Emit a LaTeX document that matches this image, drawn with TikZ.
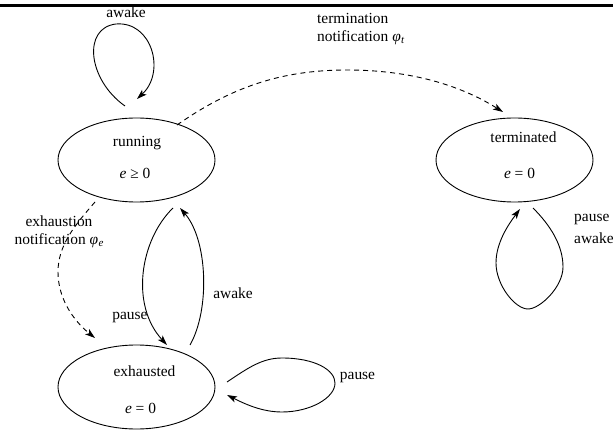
\documentclass[tikz,border=0pt]{standalone}
\usepackage{fontspec}
\setmainfont{Liberation Serif}
\usetikzlibrary{shapes.geometric,arrows.meta}

\tikzset{
  state/.style={ellipse, draw, line width=0.9bp, minimum width=157bp,
    minimum height=84bp, inner sep=0pt},
  txt/.style={inner sep=0pt, font=\fontsize{15.5}{18.5}\selectfont},
  edge/.style={line width=0.9bp, -{Stealth[length=10bp, width=6.5bp, inset=2.5bp]}},
  notify/.style={edge, dash pattern=on 5bp off 4bp},
  rule/.style={line width=2.6bp}
}
\newcommand{\phisub}[1]{\textit{φ}\kern0.3pt\raisebox{-0.25ex}{\fontsize{11}{12}\selectfont\textit{#1}}}

\begin{document}
\begin{tikzpicture}[x=1bp, y=-1bp]
  \useasboundingbox (0,0) rectangle (613,434);

  % header rule
  \draw[rule] (0,5.4) -- (613,5.4);

  % states
  \node[state] (run)  at (136.5,160) {};
  \node[state] (term) at (514.5,160) {};
  \node[state] (exh)  at (136.5,387) {};

  \node[txt] (runname)  at (137,143)   {running};
  \node[txt] (runcond)  at (135,173.5) {\textit{e} ≥ 0};
  \node[txt] (termname) at (523.5,137) {terminated};
  \node[txt] (termcond) at (519.5,173) {\textit{e} = 0};
  \node[txt] (exhname)  at (144.5,371.5) {exhausted};
  \node[txt] (exhcond)  at (140.5,408) {\textit{e} = 0};

  % connector end points
  \coordinate (runloopout) at (125,106);
  \coordinate (runloopin)  at (137,99);
  \coordinate (termin)     at (503,112);
  \coordinate (runtermout) at (177,125);
  \coordinate (runexhout)  at (95,202);
  \coordinate (exhin)      at (95,338);
  \coordinate (pauseout)   at (173,208);
  \coordinate (pausein)    at (167,345);
  \coordinate (awakeout)   at (190,345);
  \coordinate (awakein)    at (180,208);
  \coordinate (exhloopout) at (227,382);
  \coordinate (exhloopin)  at (227,395);
  \coordinate (termloopout) at (533,208);
  \coordinate (termloopin)  at (520,209);

  % running: awake self loop
  \draw[edge] (runloopout) .. controls (88,80) and (82,28) .. (116,24)
    .. controls (152,21) and (166,72) .. (runloopin);
  \node[txt] (lblrunloop) at (126,12) {awake};

  % running -> terminated
  \draw[notify] (runtermout) .. controls (230,88) and (280,70) .. (347,70)
    .. controls (410,70) and (460,85) .. (termin);
  \node[txt, anchor=base west, align=left] (lbltermin) at (317,42)
    {termination\\notification \phisub{t}};

  % running -> exhausted
  \draw[notify] (runexhout) .. controls (75,225) and (58,245) .. (58,272)
    .. controls (58,300) and (75,322) .. (exhin);
  \node[txt, anchor=base, align=center] (lblexh) at (59,245)
    {exhaustion\\notification \phisub{e}};

  % running <-> exhausted
  \draw[edge] (pauseout) .. controls (140,240) and (130,305) .. (pausein);
  \node[txt] (lblpause) at (130,318) {pause};
  \draw[edge] (awakeout) .. controls (210,310) and (208,240) .. (awakein);
  \node[txt] (lblawake) at (233,293) {awake};

  % exhausted: pause self loop
  \draw[edge] (exhloopout) .. controls (248,368) and (262,358) .. (282,358)
    .. controls (315,358) and (335,370) .. (335,383)
    .. controls (335,398) and (310,412) .. (282,412)
    .. controls (262,412) and (245,404) .. (exhloopin);
  \node[txt] (lblexhloop) at (357.5,378) {pause};

  % terminated: pause/awake self loop
  \draw[edge] (termloopout) .. controls (550,225) and (563,245) .. (563,267)
    .. controls (563,287) and (540,309) .. (528,309)
    .. controls (515,309) and (496,285) .. (496,263)
    .. controls (496,243) and (508,225) .. (termloopin);
  \node[txt, anchor=base west, align=left] (lbltermloop) at (574,244)
    {pause\\[4bp]awake};
\end{tikzpicture}
\end{document}
